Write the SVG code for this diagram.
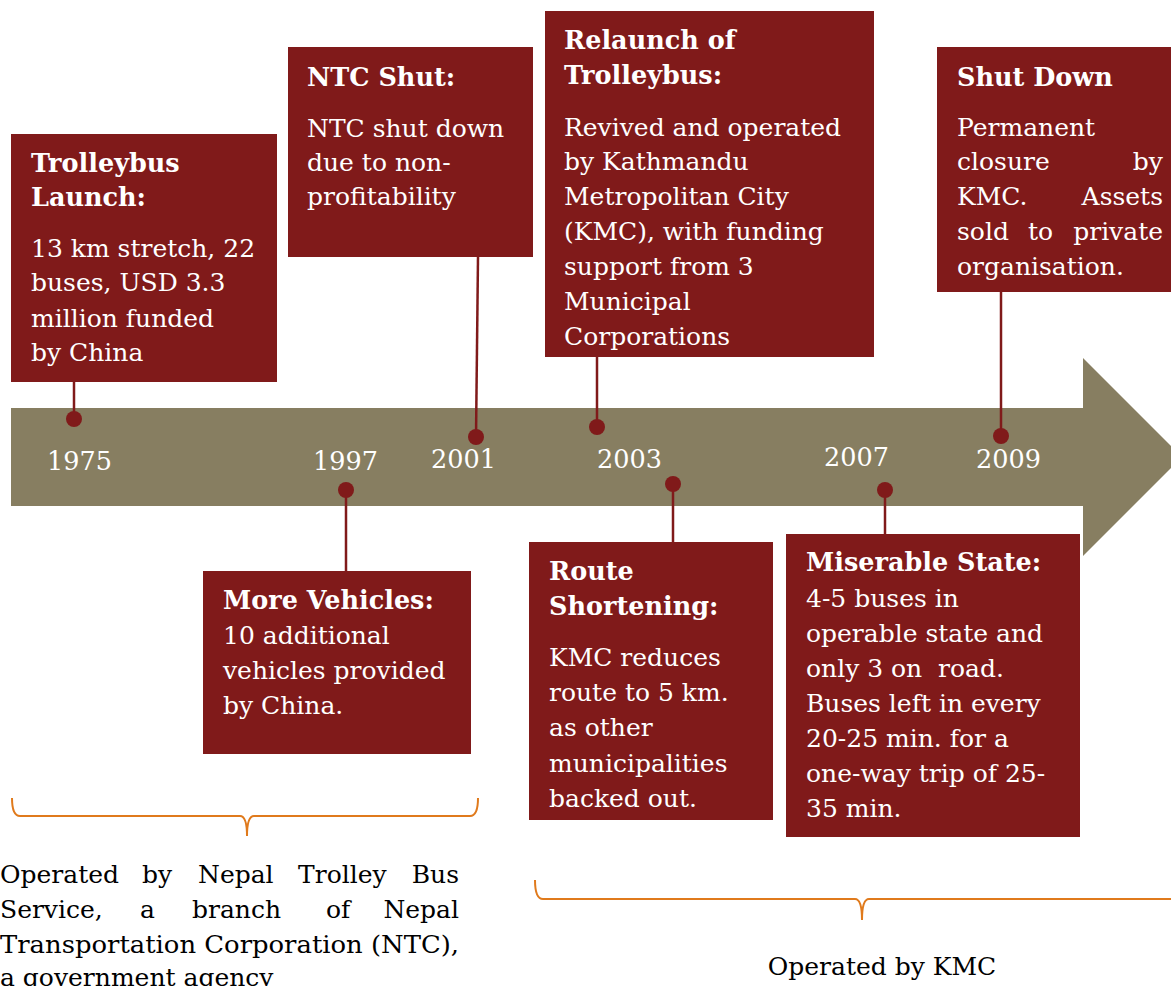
<svg xmlns="http://www.w3.org/2000/svg" width="1171" height="986" viewBox="0 0 1171 986">
  <style>
    .box { fill: #801A1A; }
    .t { font-family: "DejaVu Serif", "Liberation Serif", serif; fill: #FFFFFF; font-size: 25px; }
    .h { font-family: "DejaVu Serif", "Liberation Serif", serif; fill: #FFFFFF; font-size: 25.5px; font-weight: bold; }
    .yr { font-family: "DejaVu Serif", "Liberation Serif", serif; fill: #FFFFFF; font-size: 25.5px; }
    .cap { font-family: "DejaVu Serif", "Liberation Serif", serif; fill: #000000; font-size: 25px; }
    .end { text-anchor: end; }
    .lead { stroke: #801A1A; stroke-width: 2.5; fill: none; }
    .dot { fill: #801A1A; }
    .brace { stroke: #E07A1C; stroke-width: 2; fill: none; }
  </style>

  <!-- timeline arrow -->
  <g id="timeline">
    <polygon points="11,408 1083,408 1083,358 1182,457 1083,556 1083,506 11,506" fill="#877E61"/>
    <text class="yr" x="47" y="470">1975</text>
    <text class="yr" x="313" y="470">1997</text>
    <text class="yr" x="431" y="468">2001</text>
    <text class="yr" x="597" y="468">2003</text>
    <text class="yr" x="824" y="466">2007</text>
    <text class="yr" x="976" y="468">2009</text>
  </g>

  <!-- leader lines and markers -->
  <g id="connectors">
    <line class="lead" x1="74" y1="382" x2="74" y2="419"/>
    <circle class="dot" cx="74" cy="419" r="8"/>
    <line class="lead" x1="478" y1="257" x2="476" y2="437"/>
    <circle class="dot" cx="476" cy="437" r="8"/>
    <line class="lead" x1="597" y1="357" x2="597" y2="427"/>
    <circle class="dot" cx="597" cy="427" r="8"/>
    <line class="lead" x1="1001" y1="292" x2="1001" y2="436"/>
    <circle class="dot" cx="1001" cy="436" r="8"/>
    <line class="lead" x1="346" y1="490" x2="346" y2="571"/>
    <circle class="dot" cx="346" cy="490" r="8"/>
    <line class="lead" x1="673" y1="484" x2="673" y2="542"/>
    <circle class="dot" cx="673" cy="484" r="8"/>
    <line class="lead" x1="885" y1="490" x2="885" y2="534"/>
    <circle class="dot" cx="885" cy="490" r="8"/>
  </g>

  <g id="launch-1975">
    <rect class="box" x="11" y="134" width="266" height="248"/>
    <text class="h" x="31" y="172">Trolleybus</text>
    <text class="h" x="31" y="206">Launch:</text>
    <text class="t" x="31" y="257">13 km stretch, 22</text>
    <text class="t" x="31" y="291">buses, USD 3.3</text>
    <text class="t" x="31" y="327">million funded</text>
    <text class="t" x="31" y="361">by China</text>
  </g>

  <g id="ntc-shut-2001">
    <rect class="box" x="288" y="47" width="245" height="210"/>
    <text class="h" x="307" y="86">NTC Shut:</text>
    <text class="t" x="307" y="137">NTC shut down</text>
    <text class="t" x="307" y="171">due to non-</text>
    <text class="t" x="307" y="205">profitability</text>
  </g>

  <g id="relaunch-2003">
    <rect class="box" x="545" y="11" width="329" height="346"/>
    <text class="h" x="564" y="49">Relaunch of</text>
    <text class="h" x="564" y="84">Trolleybus:</text>
    <text class="t" x="564" y="136">Revived and operated</text>
    <text class="t" x="564" y="170">by Kathmandu</text>
    <text class="t" x="564" y="205">Metropolitan City</text>
    <text class="t" x="564" y="240">(KMC), with funding</text>
    <text class="t" x="564" y="275">support from 3</text>
    <text class="t" x="564" y="310">Municipal</text>
    <text class="t" x="564" y="345">Corporations</text>
  </g>

  <g id="shut-down-2009">
    <rect class="box" x="937" y="47" width="240" height="245"/>
    <text class="h" x="957" y="86">Shut Down</text>
    <text class="t" x="957" y="136">Permanent</text>
    <text class="t" y="170"><tspan x="957">closure</tspan><tspan class="end" x="1163">by</tspan></text>
    <text class="t" y="205"><tspan x="957">KMC.</tspan><tspan class="end" x="1163">Assets</tspan></text>
    <text class="t" y="240"><tspan x="957">sold</tspan><tspan x="1028">to</tspan><tspan class="end" x="1163">private</tspan></text>
    <text class="t" x="957" y="275">organisation.</text>
  </g>

  <g id="more-vehicles-1997">
    <rect class="box" x="203" y="571" width="268" height="183"/>
    <text class="h" x="223" y="609">More Vehicles:</text>
    <text class="t" x="223" y="644">10 additional</text>
    <text class="t" x="223" y="679">vehicles provided</text>
    <text class="t" x="223" y="714">by China.</text>
  </g>

  <g id="route-shortening-2003">
    <rect class="box" x="529" y="542" width="244" height="278"/>
    <text class="h" x="549" y="580">Route</text>
    <text class="h" x="549" y="615">Shortening:</text>
    <text class="t" x="549" y="666">KMC reduces</text>
    <text class="t" x="549" y="701">route to 5 km.</text>
    <text class="t" x="549" y="736">as other</text>
    <text class="t" x="549" y="772">municipalities</text>
    <text class="t" x="549" y="807">backed out.</text>
  </g>

  <g id="miserable-state-2007">
    <rect class="box" x="786" y="534" width="294" height="303"/>
    <text class="h" x="806" y="571">Miserable State:</text>
    <text class="t" x="806" y="607">4-5 buses in</text>
    <text class="t" x="806" y="642">operable state and</text>
    <text class="t" x="806" y="677" xml:space="preserve">only 3 on  road.</text>
    <text class="t" x="806" y="712">Buses left in every</text>
    <text class="t" x="806" y="747">20-25 min. for a</text>
    <text class="t" x="806" y="782">one-way trip of 25-</text>
    <text class="t" x="806" y="817">35 min.</text>
  </g>

  <g id="period-ntc">
    <path class="brace" d="M12,798 Q12,816 20,816 L240,816 Q247,816 247,836 Q247,816 254,816 L470,816 Q478,816 478,798"/>
    <text class="cap" y="883"><tspan x="0">Operated</tspan><tspan x="142">by</tspan><tspan x="198">Nepal</tspan><tspan x="298">Trolley</tspan><tspan class="end" x="459">Bus</tspan></text>
    <text class="cap" y="918"><tspan x="0">Service,</tspan><tspan x="140">a</tspan><tspan x="192">branch</tspan><tspan x="326">of</tspan><tspan class="end" x="459">Nepal</tspan></text>
    <text class="cap" x="0" y="953" textLength="459" lengthAdjust="spacingAndGlyphs">Transportation Corporation (NTC),</text>
    <text class="cap" x="0" y="986">a government agency</text>
  </g>

  <g id="period-kmc">
    <path class="brace" d="M535,880 Q535,899 543,899 L855,899 Q862,899 862,920 Q862,899 869,899 L1180,899"/>
    <text class="cap" x="882" y="975" text-anchor="middle">Operated by KMC</text>
  </g>
</svg>
